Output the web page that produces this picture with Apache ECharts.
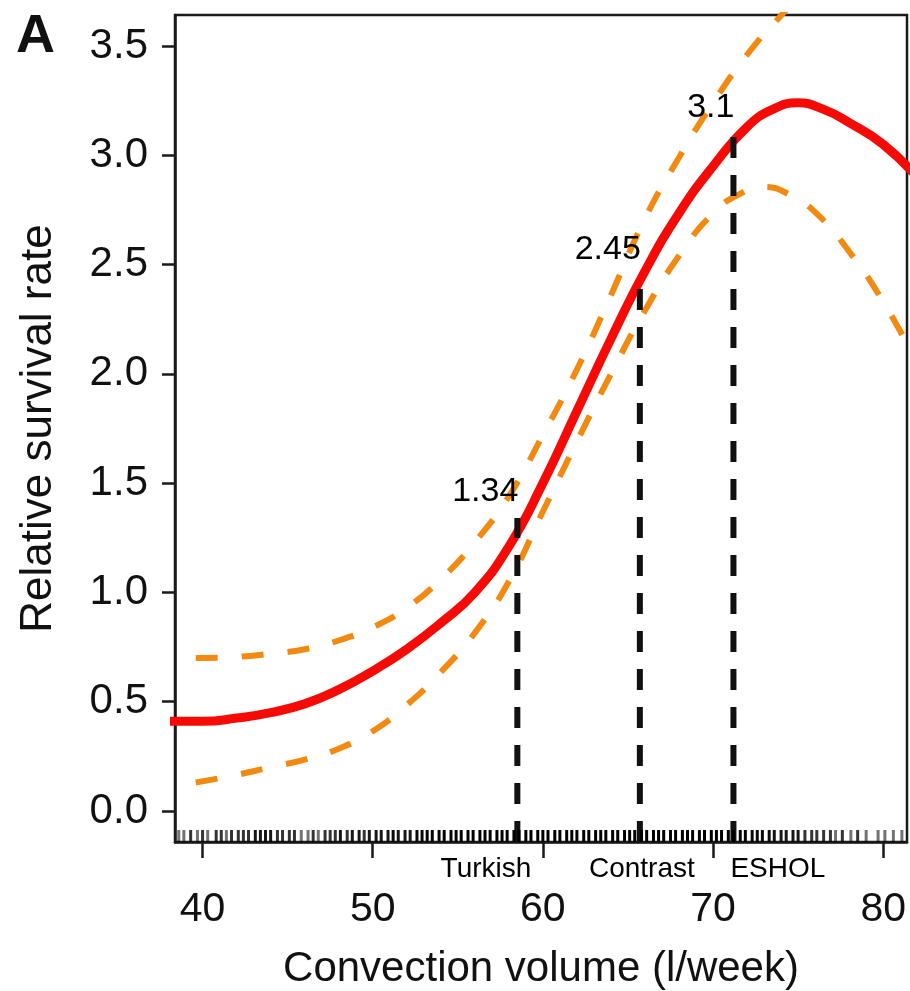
<!DOCTYPE html>
<html>
<head>
<meta charset="utf-8">
<script src="https://cdn.jsdelivr.net/npm/echarts@6/dist/echarts.min.js"></script>
<style>
  html, body { margin: 0; padding: 0; background: #fff; }
  #chart { width: 910px; height: 991px; }
</style>
</head>
<body>
<div id="chart"></div>
<script>
// fitted relative survival curve
var fitX = [38, 40, 42, 44, 46, 48, 50, 52, 54, 56, 58, 60, 62, 64, 66, 68, 70, 72, 73.5, 75, 76.5, 78, 80, 82];
var fitY = [0.41, 0.41, 0.425, 0.45, 0.49, 0.555, 0.64, 0.74, 0.86, 1.0, 1.21, 1.50, 1.83, 2.16, 2.47, 2.735, 2.95, 3.13, 3.21, 3.24, 3.21, 3.15, 3.05, 2.9];

// confidence band
var upperX = [39.6, 42, 44, 46, 48, 50, 52, 54, 56, 58, 60, 62, 64, 66, 68, 70, 72, 74, 76];
var upperY = [0.70, 0.705, 0.72, 0.74, 0.78, 0.84, 0.93, 1.06, 1.23, 1.44, 1.72, 2.02, 2.36, 2.71, 2.99, 3.24, 3.46, 3.64, 3.80];
var lowerX = [39.6, 42, 44, 46, 48, 50, 52, 54, 56, 58, 60, 62, 64, 66, 68, 70, 71.5, 73, 74.5, 76, 78, 80, 82];
var lowerY = [0.13, 0.165, 0.20, 0.235, 0.285, 0.365, 0.485, 0.635, 0.815, 1.05, 1.37, 1.69, 2.00, 2.29, 2.54, 2.735, 2.82, 2.855, 2.82, 2.74, 2.56, 2.33, 2.05];

// study reference points
var refNames = ['Turkish', 'Contrast', 'ESHOL'];
var refX = [58.5, 65.7, 71.2];
var refY = [1.34, 2.45, 3.1];
var refText = ['1.34', '2.45', '3.1'];

// rug of observations (position, number of overlapping ticks)
var rugX = [38.6, 38.9, 39.3, 39.7, 40.0, 40.3, 40.8, 41.1, 41.4, 41.7, 42.1, 42.4, 42.7, 43.1, 43.4, 43.7, 44.0, 44.4, 44.7, 45.1, 45.4, 45.8, 46.2, 46.5, 46.8, 47.2, 47.5, 47.8, 48.1, 48.5, 48.8, 49.2, 49.5, 49.8, 50.2, 50.5, 50.9, 51.2, 51.5, 51.9, 52.2, 52.6, 52.9, 53.2, 53.5, 53.9, 54.2, 54.6, 54.9, 55.2, 55.6, 55.9, 56.3, 56.6, 56.9, 57.3, 57.6, 57.9, 58.3, 58.6, 59.0, 59.3, 59.7, 60.0, 60.3, 60.7, 61.0, 61.4, 61.7, 62.0, 62.4, 62.7, 63.1, 63.4, 63.7, 64.1, 64.4, 64.8, 65.1, 65.4, 65.8, 66.1, 66.5, 66.8, 67.1, 67.5, 67.8, 68.2, 68.5, 68.8, 69.2, 69.5, 69.9, 70.2, 70.5, 70.9, 71.2, 71.6, 71.9, 72.3, 72.6, 72.9, 73.3, 73.6, 74.0, 74.3, 74.7, 75.0, 75.4, 75.8, 76.1, 76.5, 76.9, 77.2, 77.6, 78.1, 78.5, 79.0, 79.7, 80.1, 80.6, 81.1];
var rugN = [1, 1, 2, 1, 2, 1, 2, 2, 1, 2, 2, 2, 2, 3, 3, 3, 3, 2, 2, 2, 2, 1, 1, 2, 1, 2, 2, 2, 3, 2, 3, 3, 2, 3, 3, 3, 3, 4, 3, 3, 3, 4, 4, 5, 5, 5, 5, 5, 5, 5, 5, 6, 6, 6, 6, 6, 6, 6, 6, 6, 6, 6, 6, 6, 6, 6, 6, 6, 6, 6, 6, 6, 6, 6, 6, 6, 6, 6, 6, 6, 6, 6, 6, 6, 6, 5, 6, 6, 6, 6, 5, 6, 6, 6, 6, 6, 6, 5, 5, 4, 4, 4, 4, 3, 3, 3, 3, 3, 2, 2, 2, 2, 2, 1, 2, 1, 2, 1, 1, 1, 1, 1];

var yTicks = [0, 0.5, 1, 1.5, 2, 2.5, 3, 3.5];
var xTicks = [40, 50, 60, 70, 80];

var xMin = 38.38, xMax = 81.4;
var yMin = -0.142, yMax = 3.642;

var FONT = '"Liberation Sans", Arial, Helvetica, sans-serif';

function pairs(xs, ys) {
    var out = [];
    for (var i = 0; i < xs.length; i++) out.push([xs[i], ys[i]]);
    return out;
}

var myChart = echarts.init(document.getElementById('chart'));

var refLines = [];
for (var i = 0; i < refX.length; i++) {
    refLines.push({
        type: 'line',
        data: [[refX[i], yMin], [refX[i], refY[i]]],
        symbol: 'none',
        silent: true,
        z: 4,
        lineStyle: { color: '#111', width: 6, type: [21, 17], cap: 'butt' }
    });
}

var rugData = [];
for (var j = 0; j < rugX.length; j++) {
    rugData.push({
        value: [rugX[j], yMin],
        itemStyle: { opacity: 1 - Math.pow(0.45, rugN[j]) }
    });
}

var option = {
    animation: false,
    backgroundColor: '#fff',
    textStyle: { fontFamily: FONT },
    graphic: [{
        type: 'text',
        left: 16,
        top: 10,
        style: { text: 'A', font: 'bold 54px ' + FONT, fill: '#111' }
    }],
    grid: {
        left: 175,
        right: 3,
        top: 15,
        bottom: 149,
        outerBoundsMode: 'none',
        containLabel: false,
        show: true,
        borderColor: '#1a1a1a',
        borderWidth: 2.5
    },
    xAxis: {
        type: 'value',
        min: xMin,
        max: xMax,
        name: 'Convection volume (l/week)',
        nameLocation: 'middle',
        nameGap: 106,
        nameTextStyle: { fontSize: 42, color: '#111', fontFamily: FONT },
        axisLine: { show: true, onZero: false, lineStyle: { color: '#1a1a1a', width: 2.5 } },
        axisTick: { show: true, customValues: xTicks, length: 16, lineStyle: { color: '#1a1a1a', width: 2.5 } },
        axisLabel: {
            customValues: xTicks,
            margin: 47,
            fontSize: 41,
            color: '#111',
            fontFamily: FONT
        },
        splitLine: { show: false }
    },
    yAxis: {
        type: 'value',
        min: yMin,
        max: yMax,
        name: 'Relative survival rate',
        nameLocation: 'middle',
        nameGap: 114,
        nameTextStyle: { fontSize: 44, color: '#111', fontFamily: FONT },
        axisLine: { show: true, onZero: false, lineStyle: { color: '#1a1a1a', width: 2.5 } },
        axisTick: { show: true, customValues: yTicks, length: 13, lineStyle: { color: '#1a1a1a', width: 2.5 } },
        axisLabel: {
            customValues: yTicks,
            margin: 27,
            fontSize: 42,
            color: '#111',
            fontFamily: FONT,
            formatter: function (v) { return v.toFixed(1); }
        },
        splitLine: { show: false }
    },
    series: [
        {
            type: 'line',
            data: pairs(upperX, upperY),
            smooth: 0.5,
            symbol: 'none',
            z: 2,
            lineStyle: { color: '#f28a12', width: 6, type: [22, 24], cap: 'butt' }
        },
        {
            type: 'line',
            data: pairs(lowerX, lowerY),
            smooth: 0.5,
            symbol: 'none',
            z: 2,
            lineStyle: { color: '#f28a12', width: 6, type: [22, 24], cap: 'butt' }
        },
        {
            type: 'line',
            data: pairs(fitX, fitY),
            smooth: 0.5,
            symbol: 'none',
            z: 3,
            lineStyle: { color: '#f50a05', width: 9 }
        }
    ].concat(refLines).concat([
        {
            type: 'scatter',
            data: pairs(refX, refY),
            symbolSize: 0,
            silent: true,
            z: 5,
            itemStyle: { opacity: 1 },
            label: {
                show: true,
                position: 'top',
                align: 'right',
                offset: [1, -4],
                fontSize: 34,
                color: '#000',
                fontFamily: FONT,
                formatter: function (p) { return refText[p.dataIndex]; }
            }
        },
        {
            type: 'scatter',
            data: [
                { value: [refX[0], yMin], label: { align: 'right', offset: [14, 8] } },
                { value: [refX[1], yMin], label: { align: 'center', offset: [2, 8] } },
                { value: [refX[2], yMin], label: { align: 'left', offset: [-3, 8] } }
            ],
            symbolSize: 0,
            silent: true,
            clip: false,
            z: 5,
            itemStyle: { opacity: 1 },
            label: {
                show: true,
                position: 'bottom',
                fontSize: 28,
                color: '#000',
                fontFamily: FONT,
                formatter: function (p) { return refNames[p.dataIndex]; }
            }
        },
        {
            type: 'scatter',
            data: rugData,
            symbol: 'rect',
            symbolSize: [3, 12],
            symbolOffset: [0, -6],
            clip: false,
            silent: true,
            z: 6,
            itemStyle: { color: '#000' }
        }
    ])
};

myChart.setOption(option);
</script>
</body>
</html>
